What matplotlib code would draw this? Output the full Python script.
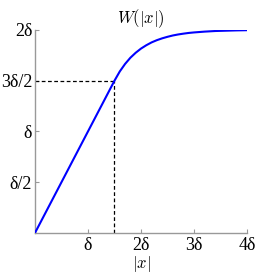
import matplotlib
matplotlib.use("Agg")
import matplotlib.pyplot as plt

# curve W(|x|) (units of delta)
x_vals = [0.0, 1.5, 1.6, 1.7, 1.8, 1.9, 2.0, 2.1, 2.2, 2.3, 2.4, 2.5, 2.6,
          2.7, 2.8, 2.9, 3.0, 3.2, 3.4, 3.6, 3.8, 4.0]
w_vals = [0.0, 1.5, 1.591, 1.665, 1.726, 1.775, 1.816, 1.849, 1.877, 1.899,
          1.917, 1.932, 1.945, 1.955, 1.963, 1.970, 1.975, 1.983, 1.989,
          1.992, 1.995, 1.997]
knee = 1.5

x_ticks = [1, 2, 3, 4]
x_labels = ['δ', '2δ', '3δ', '4δ']
y_ticks = [0.5, 1, 1.5, 2]
y_labels = ['δ/2', 'δ', '3δ/2', '2δ']

plt.rcParams['font.family'] = ['Liberation Serif', 'DejaVu Serif']
plt.rcParams['mathtext.fontset'] = 'cm'

fig = plt.figure(figsize=(2.73, 2.73), dpi=100)
ax = fig.add_axes([0.128, 0.1465, 0.777, 0.744])

ax.plot(x_vals, w_vals, color='#0000ff', lw=1.5, zorder=3)
ax.plot([0, knee], [knee, knee], 'k--', lw=0.9, dashes=(3, 2))
ax.plot([knee, knee], [0, knee], 'k--', lw=0.9, dashes=(3, 2))

ax.set_xlim(0, 4)
ax.set_ylim(0, 2)
ax.set_xticks(x_ticks)
ax.set_xticklabels(x_labels, fontsize=13)
ax.set_yticks(y_ticks)
ax.set_yticklabels(y_labels, fontsize=13)

for s in ['top', 'right']:
    ax.spines[s].set_visible(False)
for s in ['left', 'bottom']:
    ax.spines[s].set_color('#999999')
    ax.spines[s].set_linewidth(1.0)
ax.tick_params(direction='in', length=3, color='#999999')
ax.tick_params(axis='x', pad=3)
ax.tick_params(axis='y', pad=2)

ax.set_title(r'$W(|x|)$', fontsize=12, pad=4)
ax.set_xlabel(r'$|x|$', fontsize=12, labelpad=0)

fig.savefig('out.png', dpi=100)
